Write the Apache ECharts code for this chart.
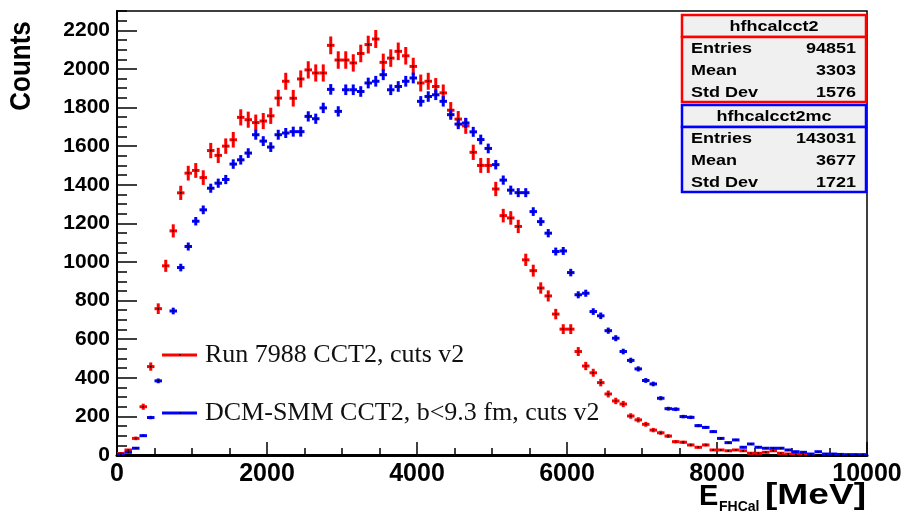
<!DOCTYPE html>
<html>
<head>
<meta charset="utf-8">
<script src="https://cdn.jsdelivr.net/npm/echarts@6/dist/echarts.min.js"></script>
<style>
html,body{margin:0;padding:0;background:#fff;}
#chart{width:914px;height:517px;}
</style>
</head>
<body>
<div id="chart"></div>
<script>
// ---- data ----
const binCenters = [50,150,250,350,450,550,650,750,850,950,
  1050,1150,1250,1350,1450,1550,1650,1750,1850,1950,
  2050,2150,2250,2350,2450,2550,2650,2750,2850,2950,
  3050,3150,3250,3350,3450,3550,3650,3750,3850,3950,
  4050,4150,4250,4350,4450,4550,4650,4750,4850,4950,
  5050,5150,5250,5350,5450,5550,5650,5750,5850,5950,
  6050,6150,6250,6350,6450,6550,6650,6750,6850,6950,
  7050,7150,7250,7350,7450,7550,7650,7750,7850,7950,
  8050,8150,8250,8350,8450,8550,8650,8750,8850,8950,
  9050,9150,9250,9350,9450,9550,9650,9750,9850,9950];
const binWidth = 100;
const redValues = [8,26,86,250,458,758,980,1161,1358,1460,
  1474,1437,1577,1552,1600,1633,1749,1737,1722,1730,
  1757,1849,1936,1848,1948,1995,1979,1979,2122,2046,
  2046,2031,2080,2126,2155,2034,2056,2091,2068,2013,
  1927,1936,1909,1876,1786,1740,1705,1568,1500,1500,
  1378,1240,1228,1184,1011,955,865,824,730,652,
  652,536,461,426,375,316,280,264,202,182,
  159,129,115,98,69,66,52,40,52,26,
  26,22,26,22,9,9,14,22,9,5,
  3,2,1,0,0,0,0,0,0,0];
const blueValues = [3,14,35,100,194,384,530,746,971,1080,
  1211,1270,1382,1408,1427,1507,1529,1564,1659,1626,
  1595,1659,1668,1675,1675,1754,1742,1798,1894,1780,
  1892,1892,1883,1927,1936,1970,1892,1909,1936,1953,
  1832,1857,1866,1832,1763,1714,1720,1674,1634,1588,
  1504,1424,1372,1359,1359,1261,1209,1149,1054,1057,
  945,830,838,743,721,644,605,536,490,446,
  386,368,294,240,237,199,195,152,143,121,
  86,64,78,40,57,40,35,35,35,26,
  17,14,5,17,5,5,3,2,2,2];
const blueScale = 0.4; // MC weight used for the error bars
const xTickLabels = ['0','2000','4000','6000','8000','10000'];
const yTickLabels = ['0','200','400','600','800','1000','1200','1400','1600','1800','2000','2200'];
const redName = 'Run 7988 CCT2, cuts v2';
const blueName = 'DCM-SMM CCT2, b<9.3 fm, cuts v2';
const redStats = {title:'hfhcalcct2', rows:[['Entries','94851'],['Mean','3303'],['Std Dev','1576']]};
const blueStats = {title:'hfhcalcct2mc', rows:[['Entries','143031'],['Mean','3677'],['Std Dev','1721']]};

// ---- build ----
function build(values, scale){
  const out=[];
  for(let i=0;i<values.length;i++){
    if(values[i]>0) out.push([binCenters[i], values[i], Math.sqrt(values[i]*scale)]);
  }
  return out;
}
function makeRender(color){
  return function(params, api){
    const x=api.value(0), y=api.value(1), e=api.value(2);
    const a=api.coord([x-binWidth/2,y]), b=api.coord([x+binWidth/2,y]);
    const t=api.coord([x,y+e]), d=api.coord([x,Math.max(0,y-e)]);
    const c=api.coord([x,y]);
    return {type:'group',children:[
      {type:'line',shape:{x1:a[0],y1:a[1],x2:b[0],y2:b[1]},style:{stroke:color,lineWidth:3}},
      {type:'line',shape:{x1:t[0],y1:t[1],x2:d[0],y2:d[1]},style:{stroke:color,lineWidth:3}},
      {type:'rect',shape:{x:c[0]-0.8,y:c[1]-0.8,width:1.6,height:1.6},style:{fill:'#000'}}
    ]};
  };
}
const SANS='"Liberation Sans", Arial, Helvetica, sans-serif';
const SERIF='"Liberation Serif", "Times New Roman", serif';

function statsBox(s, color, top){
  const x=682, w=184, th=22, rh=22;
  const els=[
    {type:'rect',shape:{x:x,y:top,width:w,height:th},style:{fill:'#f0f0f0',stroke:color,lineWidth:2.5},z:100},
    {type:'rect',shape:{x:x,y:top+th,width:w,height:rh*3-1},style:{fill:'#f0f0f0',stroke:color,lineWidth:2.5},z:100},
    {type:'text',x:x+w/2,y:top+th/2+1,scaleX:1.2,style:{text:s.title,font:'bold 15px '+SANS,fill:'#000',align:'center',verticalAlign:'middle'},z:101}
  ];
  s.rows.forEach((r,i)=>{
    const cy=top+th+rh*i+rh/2+1;
    els.push({type:'text',x:x+9,y:cy,scaleX:1.2,style:{text:r[0],font:'bold 15px '+SANS,fill:'#000',align:'left',verticalAlign:'middle'},z:101});
    els.push({type:'text',x:x+w-10,y:cy,scaleX:1.2,style:{text:r[1],font:'bold 15px '+SANS,fill:'#000',align:'right',verticalAlign:'middle'},z:101});
  });
  return els;
}

const chart=echarts.init(document.getElementById('chart'),null,{renderer:'canvas'});
const option={
  animation:false,
  backgroundColor:'#fff',
  grid:{left:117,right:47,top:11,bottom:62,show:true,borderColor:'#000',borderWidth:1.5,backgroundColor:'transparent'},
  xAxis:{type:'value',min:0,max:10000,interval:2000,
    axisLine:{show:true,onZero:false,lineStyle:{color:'#000',width:3}},
    axisTick:{show:true,inside:true,length:13,lineStyle:{color:'#000',width:1.5}},
    minorTick:{show:true,splitNumber:4,length:7,lineStyle:{color:'#000',width:1.5}},
    splitLine:{show:false},
    axisLabel:{margin:7,color:'#000',fontFamily:SANS,fontWeight:'bold',fontSize:25,
      formatter:v=>xTickLabels.includes(String(v))?String(v):''}
  },
  yAxis:[
    {type:'value',min:0,max:2300,interval:200,
      axisLine:{show:true,onZero:false,lineStyle:{color:'#000',width:2}},
      axisTick:{show:true,inside:true,length:20,lineStyle:{color:'#000',width:1.5}},
      splitLine:{show:false},
      axisLabel:{margin:7,color:'#000',fontFamily:SANS,fontWeight:'bold',fontSize:21,showMaxLabel:false,
        formatter:v=>yTickLabels.includes(String(v))?String(v):''}
    },
    {type:'value',min:0,max:2300,interval:50,position:'left',offset:0,
      axisLine:{show:false},
      axisTick:{show:true,inside:true,length:10,lineStyle:{color:'#000',width:1.5}},
      splitLine:{show:false},axisLabel:{show:false}
    }
  ],
  series:[
    {type:'custom',name:redName,renderItem:makeRender('#ff0000'),data:build(redValues,1),encode:{x:0,y:1},clip:true,z:3},
    {type:'custom',name:blueName,renderItem:makeRender('#0000ff'),data:build(blueValues,blueScale),encode:{x:0,y:1},clip:true,z:4}
  ],
  graphic:[
    {type:'text',x:22,y:66,rotation:Math.PI/2,scaleY:1.15,style:{text:'Counts',font:'bold 26px '+SANS,fill:'#000',align:'center',verticalAlign:'middle'}},
    {type:'text',x:699,y:497,style:{text:'E',font:'bold 29px '+SANS,fill:'#000',align:'left',verticalAlign:'middle'}},
    {type:'text',x:719,y:507,style:{text:'FHCal',font:'bold 14px '+SANS,fill:'#000',align:'left',verticalAlign:'middle'}},
    {type:'text',x:866,y:496,scaleX:1.28,style:{text:'[MeV]',font:'bold 29px '+SANS,fill:'#000',align:'right',verticalAlign:'middle'}},
    {type:'rect',shape:{x:160.5,y:343,width:38,height:24},style:{fill:'#fff'},z:49},
    {type:'line',shape:{x1:162,y1:355,x2:197,y2:355},style:{stroke:'#ff0000',lineWidth:3},z:50},
    {type:'rect',shape:{x:179,y:354,width:1.6,height:1.6},style:{fill:'#000'},z:51},
    {type:'text',x:205,y:355,style:{text:redName,font:'26px '+SERIF,fill:'#111',align:'left',verticalAlign:'middle'},z:50},
    {type:'line',shape:{x1:162,y1:413,x2:197,y2:413},style:{stroke:'#0000ff',lineWidth:3},z:50},
    {type:'rect',shape:{x:179,y:412,width:1.6,height:1.6},style:{fill:'#000'},z:51},
    {type:'text',x:205,y:413,style:{text:blueName,font:'26px '+SERIF,fill:'#111',align:'left',verticalAlign:'middle'},z:50}
  ].concat(statsBox(redStats,'#ff0000',15)).concat(statsBox(blueStats,'#0000ff',105))
};
chart.setOption(option);
</script>
</body>
</html>
